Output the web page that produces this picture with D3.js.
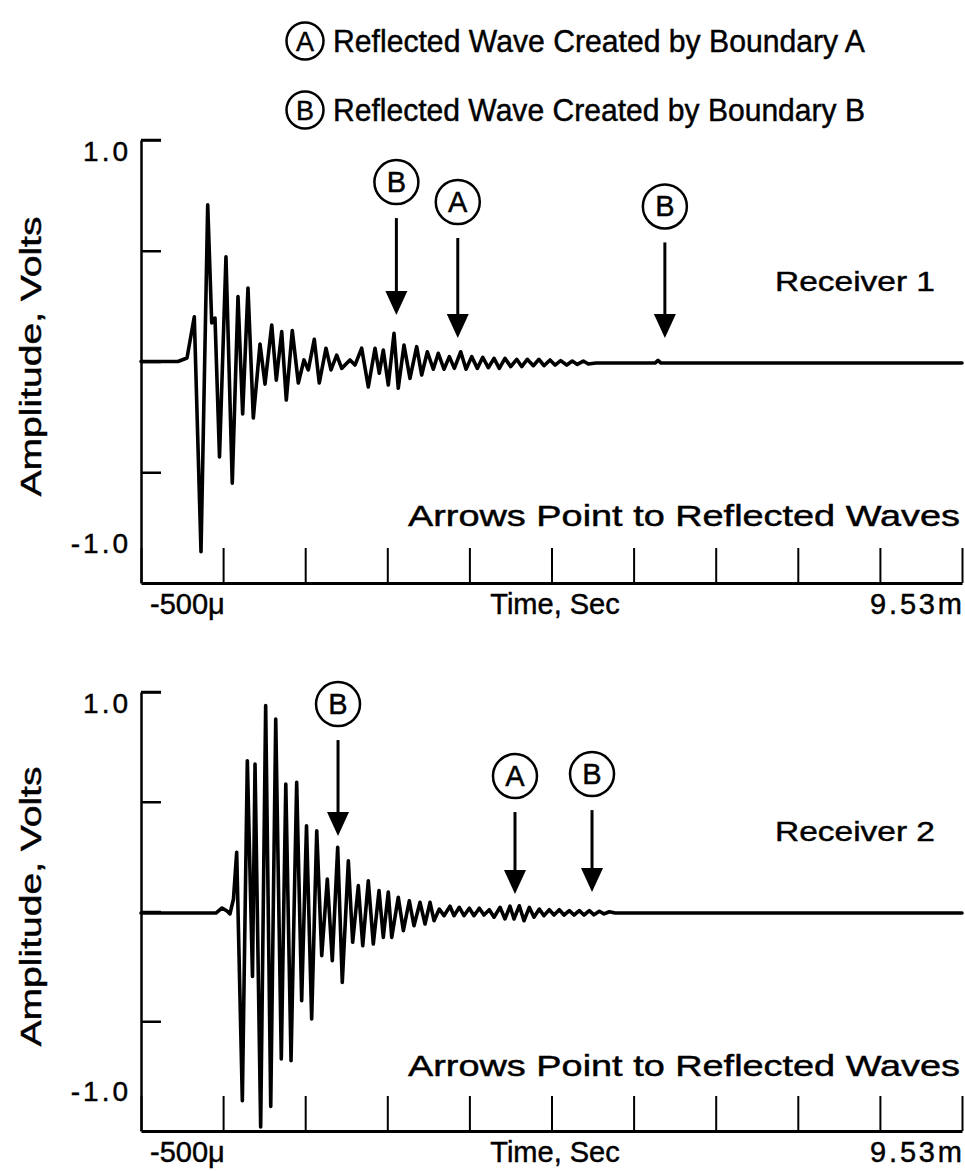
<!DOCTYPE html>
<html>
<head>
<meta charset="utf-8">
<script src="https://cdn.jsdelivr.net/npm/d3@7"></script>
<style>
  html, body { margin: 0; padding: 0; background: #fff; }
  svg { display: block; }
  text { font-family: "Liberation Sans", Arial, Helvetica, sans-serif; fill: #000; stroke: #000; stroke-width: 0.45px; }
</style>
</head>
<body>
<svg id="chart" width="965" height="1171"></svg>
<script>
// ---- Data (time in ms, amplitude in volts) ----
const receiver1Time = [-0.5,-0.048,0.062,0.151,0.233,0.315,0.364,0.404,0.459,0.538,0.615,0.685,0.742,0.807,0.872,0.954,1.015,1.097,1.153,1.219,1.275,1.348,1.422,1.491,1.544,1.617,1.678,1.760,1.821,1.891,1.952,2.053,2.114,2.196,2.277,2.359,2.411,2.460,2.521,2.591,2.643,2.713,2.786,2.868,2.929,2.998,3.071,3.132,3.202,3.267,3.328,3.406,3.471,3.540,3.609,3.675,3.743,3.813,3.877,3.947,4.017,4.090,4.151,4.219,4.293,4.362,4.423,4.497,4.558,4.627,4.701,4.769,4.830,4.904,4.965,5.059,5.780,5.816,5.853,9.53];
const receiver1Amp = [0,0,0.016,0.202,-0.859,0.707,0.174,0.196,-0.431,0.473,-0.549,0.293,-0.237,0.332,-0.255,0.079,-0.102,0.165,-0.084,0.135,-0.174,0.140,-0.097,0.007,-0.038,0.100,-0.097,0.060,-0.038,0.029,-0.031,0.007,-0.016,0.060,-0.115,0.060,-0.053,0.052,-0.106,0.127,-0.121,0.074,-0.076,0.067,-0.061,0.044,-0.035,0.037,-0.035,0.022,-0.031,0.044,-0.035,0.022,-0.031,0.019,-0.028,0.014,-0.031,0.014,-0.023,0.010,-0.023,0.010,-0.019,0.010,-0.019,0.007,-0.016,0.004,-0.016,0.002,-0.013,0.002,-0.011,-0.007,-0.007,0.005,-0.007,-0.007];

const receiver2Time = [-0.5,0.416,0.490,0.551,0.587,0.630,0.669,0.738,0.799,0.862,0.893,0.962,1.023,1.085,1.146,1.214,1.269,1.333,1.402,1.463,1.522,1.585,1.647,1.708,1.776,1.837,1.903,1.959,2.033,2.086,2.155,2.209,2.277,2.338,2.408,2.460,2.521,2.563,2.643,2.705,2.778,2.835,2.909,2.970,3.031,3.080,3.144,3.202,3.275,3.324,3.389,3.446,3.511,3.568,3.633,3.690,3.755,3.813,3.886,3.947,4.008,4.057,4.122,4.179,4.244,4.301,4.366,4.423,4.488,4.546,4.610,4.668,4.733,4.790,4.855,4.912,4.977,5.034,5.099,5.157,5.221,5.291,9.53];
const receiver2Amp = [-0.007,-0.007,0.016,0.002,-0.011,0.057,0.270,-0.862,0.687,-0.296,0.672,-0.982,0.938,-0.888,0.877,-0.672,0.581,-0.680,0.589,-0.406,0.391,-0.490,0.368,-0.201,0.148,-0.224,0.292,-0.323,0.231,-0.140,0.118,-0.156,0.140,-0.148,0.095,-0.118,0.089,-0.118,0.065,-0.087,0.049,-0.065,0.042,-0.057,0.042,-0.042,0.011,-0.019,0.024,-0.019,0.019,-0.019,0.015,-0.019,0.015,-0.016,0.008,-0.026,0.019,-0.034,0.024,-0.034,0.026,-0.042,0.019,-0.026,0.011,-0.019,0.008,-0.016,0.008,-0.016,0.004,-0.016,0.004,-0.016,0.004,-0.015,0.001,-0.011,-0.001,-0.007,-0.007];

// Reflected-wave markers: boundary label, time (ms), amplitude at arrow tip, amplitude of label circle
const markers1Label = ["B", "A", "B"];
const markers1Time  = [2.62, 3.37, 5.90];
const markers1Tip   = [0.21, 0.106, 0.106];
const markers1Circ  = [0.81, 0.72, 0.70];

const markers2Label = ["B", "A", "B"];
const markers2Time  = [1.907, 4.069, 5.010];
const markers2Tip   = [0.344, 0.080, 0.089];
const markers2Circ  = [0.945, 0.617, 0.626];

const legendLetters = ["A", "B"];
const legendTexts = ["Reflected Wave Created by Boundary A", "Reflected Wave Created by Boundary B"];
const receiverNames = ["Receiver 1", "Receiver 2"];
const yTickLabels = ["1.0", "-1.0"];
const xTickLabels = ["-500\u03bc", "9.53m"];
const xTitle = "Time, Sec";
const yTitle = "Amplitude,  Volts";
const noteText = "Arrows Point to Reflected Waves";
const timeDomain = [-0.5, 9.53];
const nXIntervals = 10;
const yTickValues = [1, 0.5, 0, -0.5];

// ---- Drawing ----
const svg = d3.select("#chart");
const x = d3.scaleLinear().domain(timeDomain).range([141, 962]);
const xTicks = d3.range(nXIntervals + 1).map(i => timeDomain[0] + i * (timeDomain[1] - timeDomain[0]) / nXIntervals);

// Legend
legendLetters.forEach((L, i) => {
  const cy = 41 + i * 69;
  svg.append("circle").attr("cx", 305).attr("cy", cy).attr("r", 18.5)
    .attr("fill", "none").attr("stroke", "#000").attr("stroke-width", 2.5);
  svg.append("text").attr("x", 305).attr("y", cy + 10).attr("text-anchor", "middle")
    .attr("font-size", 27).text(L);
  svg.append("text").attr("x", 333).attr("y", cy + 11).attr("font-size", 31)
    .attr("textLength", 532).attr("lengthAdjust", "spacingAndGlyphs").text(legendTexts[i]);
});

const panels = [
  {top: 140, bottom: 583, t: receiver1Time, a: receiver1Amp,
   mL: markers1Label, mT: markers1Time, mTip: markers1Tip, mC: markers1Circ, name: receiverNames[0]},
  {top: 692, bottom: 1131, t: receiver2Time, a: receiver2Amp,
   mL: markers2Label, mT: markers2Time, mTip: markers2Tip, mC: markers2Circ, name: receiverNames[1]}
];

panels.forEach(p => {
  const y = d3.scaleLinear().domain([-1, 1]).range([p.bottom, p.top]);
  const g = svg.append("g");

  // y axis
  const yAxis = d3.axisRight(y).tickValues(yTickValues).tickSize(20).tickSizeOuter(0).tickFormat("");
  const ya = g.append("g").attr("transform", "translate(141,0)").call(yAxis);
  ya.selectAll("path,line").attr("stroke", "#000").attr("stroke-width", 2.5);

  // x axis
  const xAxis = d3.axisTop(x).tickValues(xTicks).tickSize(35).tickSizeOuter(0).tickFormat("");
  const xa = g.append("g").attr("transform", `translate(0,${p.bottom})`).call(xAxis);
  xa.selectAll("path").attr("stroke", "#000").attr("stroke-width", 3);
  xa.selectAll("line").attr("stroke", "#000").attr("stroke-width", 2);

  // top stub of y axis
  g.append("line").attr("x1", 141).attr("x2", 161).attr("y1", y(1)).attr("y2", y(1))
    .attr("stroke", "#000").attr("stroke-width", 2.5);

  // waveform
  const pts = p.t.map((t, i) => [t, p.a[i]]);
  const line = d3.line().x(d => x(d[0])).y(d => y(d[1]));
  g.append("path").datum(pts).attr("d", line).attr("fill", "none")
    .attr("stroke", "#000").attr("stroke-width", 3.6)
    .attr("stroke-linejoin", "round").attr("stroke-linecap", "round");

  // y labels
  g.append("text").attr("x", 131).attr("y", y(1) + 21).attr("text-anchor", "end")
    .attr("font-size", 28).attr("letter-spacing", 3).text(yTickLabels[0]);
  g.append("text").attr("x", 131).attr("y", y(-1) - 30).attr("text-anchor", "end")
    .attr("font-size", 28).attr("letter-spacing", 3).text(yTickLabels[1]);
  g.append("text").attr("transform", `translate(41,${y(0) - 5}) rotate(-90)`)
    .attr("text-anchor", "middle").attr("font-size", 29)
    .attr("textLength", 280).attr("lengthAdjust", "spacingAndGlyphs").text(yTitle);

  // x labels
  g.append("text").attr("x", 150).attr("y", p.bottom + 31).attr("font-size", 29).text(xTickLabels[0]);
  g.append("text").attr("x", 870).attr("y", p.bottom + 31)
    .attr("font-size", 29).attr("textLength", 92).attr("lengthAdjust", "spacing").text(xTickLabels[1]);
  g.append("text").attr("x", 555).attr("y", p.bottom + 31).attr("text-anchor", "middle")
    .attr("font-size", 29).text(xTitle);

  // receiver name and note
  g.append("text").attr("x", 775).attr("y", y(0) - 71).attr("font-size", 28)
    .attr("textLength", 160).attr("lengthAdjust", "spacingAndGlyphs").text(p.name);
  g.append("text").attr("x", 408).attr("y", y(0) + 164).attr("font-size", 29)
    .attr("textLength", 552).attr("lengthAdjust", "spacingAndGlyphs").text(noteText);

  // markers
  p.mL.forEach((L, i) => {
    const mx = x(p.mT[i]);
    const tipY = y(p.mTip[i]);
    const cy = y(p.mC[i]);
    g.append("circle").attr("cx", mx).attr("cy", cy).attr("r", 22)
      .attr("fill", "none").attr("stroke", "#000").attr("stroke-width", 2.5);
    g.append("text").attr("x", mx).attr("y", cy + 10).attr("text-anchor", "middle")
      .attr("font-size", 29).text(L);
    g.append("line").attr("x1", mx).attr("x2", mx).attr("y1", cy + 36).attr("y2", tipY - 20)
      .attr("stroke", "#000").attr("stroke-width", 3);
    g.append("path")
      .attr("d", `M${mx},${tipY} L${mx - 11},${tipY - 24} L${mx + 11},${tipY - 24} Z`)
      .attr("fill", "#000");
  });
});
</script>
</body>
</html>
